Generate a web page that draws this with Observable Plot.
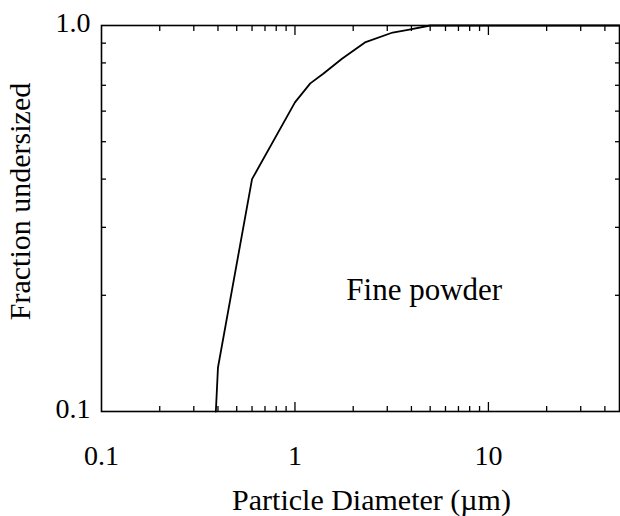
<!DOCTYPE html>
<html>
<head>
<meta charset="utf-8">
<script src="https://cdn.jsdelivr.net/npm/d3@7"></script>
<script src="https://cdn.jsdelivr.net/npm/@observablehq/plot@0.6"></script>
<style>
  html, body { margin: 0; padding: 0; background: #fff; }
  svg { font-family: "Liberation Serif", "Times New Roman", serif; }
</style>
</head>
<body>
<div id="chart"></div>
<script>
// Particle size distribution (cumulative fraction undersized)
const diameter = [0.39, 0.40, 0.60, 1.0, 1.2, 1.4, 1.75, 2.3, 3.2, 3.9, 5.0, 47.6];
const fraction = [0.10, 0.13, 0.40, 0.632, 0.708, 0.75, 0.82, 0.904, 0.959, 0.976, 1.0, 1.0];

const xDomain = [0.1, 47.6];
const yDomain = [0.1, 1.0];
const xLabelTicks = [0.1, 1, 10];
const xMajorTicks = [1, 10];
const xMinorTicks = [0.2, 0.3, 0.4, 0.5, 0.6, 0.7, 0.8, 0.9, 2, 3, 4, 5, 6, 7, 8, 9, 20, 30, 40];
const yLabelTicks = [0.1, 1.0];
const yMinorTicks = [0.2, 0.3, 0.4, 0.5, 0.6, 0.7, 0.8, 0.9];

const annotationText = ["Fine powder"];
const annotationX = [4.66];
const annotationY = [0.206];

const xTitle = "Particle Diameter (\u00b5m)";
const yTitle = "Fraction undersized";

const data = diameter.map((d, i) => ({d, f: fraction[i]}));
const notes = annotationText.map((t, i) => ({t, x: annotationX[i], y: annotationY[i]}));

const W = 620, H = 516, mL = 101, mR = 1, mT = 25, mB = 105;
const tickFont = 28, titleFont = 30, noteFont = 31;
const minorLen = 5, majorLen = 9;
const tickStyle = {text: null, label: null, stroke: "#000", strokeWidth: 1.3, strokeOpacity: 1};

const chart = Plot.plot({
  width: W,
  height: H,
  marginLeft: mL,
  marginRight: mR,
  marginTop: mT,
  marginBottom: mB,
  style: {fontFamily: '"Liberation Serif", "Times New Roman", serif', background: "#fff", color: "#000"},
  x: {type: "log", domain: xDomain, label: null},
  y: {type: "log", domain: yDomain, label: null},
  marks: [
    // inward ticks on all four sides
    Plot.axisX({anchor: "bottom", ticks: xMinorTicks, tickSize: minorLen, dy: -minorLen, ...tickStyle}),
    Plot.axisX({anchor: "bottom", ticks: xMajorTicks, tickSize: majorLen, dy: -majorLen, ...tickStyle}),
    Plot.axisX({anchor: "top", ticks: xMinorTicks, tickSize: minorLen, dy: minorLen, ...tickStyle}),
    Plot.axisX({anchor: "top", ticks: xMajorTicks, tickSize: majorLen, dy: majorLen, ...tickStyle}),
    Plot.axisY({anchor: "left", ticks: yMinorTicks, tickSize: minorLen, dx: minorLen, ...tickStyle}),
    Plot.axisY({anchor: "right", ticks: yMinorTicks, tickSize: minorLen, dx: -minorLen, ...tickStyle}),
    // tick labels
    Plot.axisX({anchor: "bottom", ticks: xLabelTicks, tickSize: 0, tickPadding: 34, fontSize: tickFont, label: null,
      tickFormat: d => String(d)}),
    Plot.axisY({anchor: "left", ticks: yLabelTicks, tickSize: 0, tickPadding: 11, fontSize: tickFont, label: null,
      tickFormat: d => d.toFixed(1), dy: -2}),
    Plot.frame({stroke: "#000", strokeWidth: 1.6}),
    Plot.line(data, {x: "d", y: "f", stroke: "#000", strokeWidth: 1.8, curve: "linear"}),
    Plot.text(notes, {x: "x", y: "y", text: "t", fontSize: noteFont, fill: "#000", textAnchor: "middle"}),
    Plot.text([xTitle], {frameAnchor: "bottom", text: d => d, dy: 89, dx: 11, fontSize: titleFont, fill: "#000",
      textAnchor: "middle", lineAnchor: "middle"}),
    Plot.text([yTitle], {frameAnchor: "left", text: d => d, dx: -81, dy: -17, rotate: -90, fontSize: titleFont, fill: "#000",
      textAnchor: "middle", lineAnchor: "middle"})
  ]
});
document.getElementById("chart").appendChild(chart);
</script>
</body>
</html>
